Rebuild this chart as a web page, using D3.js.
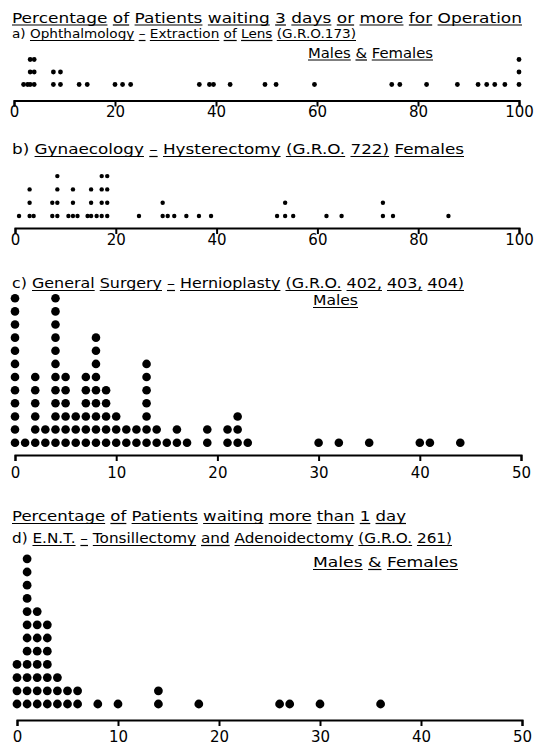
<!DOCTYPE html>
<html>
<head>
<meta charset="utf-8">
<script src="https://cdnjs.cloudflare.com/ajax/libs/d3/7.8.5/d3.min.js"></script>
<style>
body { margin: 0; background: #fff; }
text { font-family: "DejaVu Sans", sans-serif; fill: #000; }
</style>
</head>
<body>
<div id="chart"></div>
<script>
// a) Ophthalmology - extraction of lens, % waiting 3+ days
var aValues = [1.9, 2.7, 3.2, 4.0, 7.8, 9.2, 12.9, 14.5, 20, 21.5, 23.1, 36.7, 38.7, 39.5, 42.8, 49.7, 51.9, 59.5, 74.8, 76.4, 81.7, 87.8, 91.9, 93.6, 95.2, 97.2, 100];
var aCounts = [1, 1, 3, 3, 2, 2, 1, 1, 1, 1, 1, 1, 1, 1, 1, 1, 1, 1, 1, 1, 1, 1, 1, 1, 1, 1, 3];

// b) Gynaecology - hysterectomy
var bValues = [0.8, 2.9, 3.7, 7.4, 8.4, 10.6, 11.5, 12.4, 14.4, 15.1, 16.2, 17.2, 18.3, 24.6, 29.3, 30.3, 31.6, 34.0, 36.5, 38.9, 52.0, 53.6, 55.2, 61.8, 64.8, 73.0, 75.0, 86.0];
var bCounts = [1, 3, 1, 2, 4, 1, 3, 1, 1, 3, 1, 4, 4, 1, 2, 1, 1, 1, 1, 1, 1, 2, 1, 1, 1, 2, 1, 1];

// c) General surgery - hernioplasty
var cValues = [0, 1, 2, 3, 4, 5, 6, 7, 8, 9, 10, 11, 12, 13, 14, 15, 16, 17, 19, 21, 22, 23, 30, 32, 35, 40, 41, 44];
var cCounts = [12, 1, 6, 2, 12, 6, 3, 6, 9, 5, 3, 2, 2, 7, 2, 1, 2, 1, 2, 2, 3, 1, 1, 1, 1, 1, 1, 1];

// d) ENT - tonsillectomy and adenoidectomy, % waiting more than 1 day
var dValues = [0, 1, 2, 3, 4, 5, 6, 8, 10, 14, 18, 26, 27, 30, 36];
var dCounts = [4, 12, 8, 7, 3, 2, 2, 1, 1, 2, 1, 1, 1, 1, 1];

var ticks100 = [0, 20, 40, 60, 80, 100];
var ticks50 = [0, 10, 20, 30, 40, 50];

function init() {
    var w = 537;
    var h = 746;

    var svg = d3.select("#chart")
        .append("svg")
        .attr("width", w)
        .attr("height", h);

    // hidden text used to measure word widths
    var meas = svg.append("text").attr("opacity", 0);
    function width(s, size) {
        meas.attr("font-size", size).text(s);
        return meas.node().getComputedTextLength();
    }

    // lettered line, stretched to fit x0..x1, each word underlined (after `skip` words)
    function lettered(str, x0, x1, y, skip, size) {
        size = size || 14;
        var words = str.split(" ");
        var sp = width("a a", size) - width("aa", size);
        var ws = words.map(function(s) { return width(s, size); });
        var total = d3.sum(ws) + sp * (words.length - 1);
        var k = (x1 - x0) / total;
        var x = x0;
        words.forEach(function(wd, i) {
            var ww = ws[i] * k;
            svg.append("text")
                .attr("x", x)
                .attr("y", y)
                .attr("font-size", size)
                .attr("textLength", ww)
                .attr("lengthAdjust", "spacingAndGlyphs")
                .text(wd);
            if (i >= skip) {
                svg.append("line")
                    .attr("x1", x).attr("x2", x + ww)
                    .attr("y1", y + 2.5).attr("y2", y + 2.5)
                    .attr("stroke", "#000")
                    .attr("stroke-width", 1.2);
            }
            x += ww + sp * k;
        });
    }

    lettered("Percentage of Patients waiting 3 days or more for Operation", 12, 522, 22.5, 0, 13.5);
    lettered("a) Ophthalmology – Extraction of Lens (G.R.O.173)", 12, 356, 38, 1, 13);
    lettered("Males & Females", 308, 433, 57.5, 0);
    lettered("b) Gynaecology – Hysterectomy (G.R.O. 722) Females", 12, 464, 154, 1);
    lettered("c) General Surgery – Hernioplasty (G.R.O. 402, 403, 404)", 12, 464, 288, 1);
    lettered("Males", 313, 358, 305, 0);
    lettered("Percentage of Patients waiting more than 1 day", 12, 406, 521, 0);
    lettered("d) E.N.T. – Tonsillectomy and Adenoidectomy (G.R.O. 261)", 12, 452, 543, 1);
    lettered("Males & Females", 313, 458, 567, 0);
    meas.remove();

    var panels = [
        { values: aValues, counts: aCounts, max: 100, x0: 14, x1: 519, axisY: 100.5, base: 84.5, step: 12.5, r: 2.4, ticks: ticks100, pad: 0 },
        { values: bValues, counts: bCounts, max: 100, x0: 15, x1: 519, axisY: 228, base: 216, step: 13.3, r: 2.2, ticks: ticks100, pad: 0 },
        { values: cValues, counts: cCounts, max: 50, x0: 15, x1: 521, axisY: 455, base: 442.7, step: 13.13, r: 4.3, ticks: ticks50, pad: 6 },
        { values: dValues, counts: dCounts, max: 50, x0: 17, x1: 522, axisY: 720, base: 704, step: 13.2, r: 4.4, ticks: ticks50, pad: 5 }
    ];

    panels.forEach(function(p) {
        var xScale = d3.scaleLinear()
            .domain([0, p.max])
            .range([p.x0, p.x1]);

        // stack dots: one per patient group, piled up at its value
        var dots = [];
        p.values.forEach(function(v, i) {
            for (var k = 0; k < p.counts[i]; k++) dots.push({ v: v, k: k });
        });

        svg.append("g")
            .selectAll("circle")
            .data(dots)
            .enter()
            .append("circle")
            .attr("cx", function(d) { return xScale(d.v); })
            .attr("cy", function(d) { return p.base - d.k * p.step; })
            .attr("r", p.r)
            .style("fill", "#000");

        var axis = svg.append("g")
            .attr("transform", "translate(0," + p.axisY + ")")
            .call(d3.axisBottom(xScale)
                .tickValues(p.ticks)
                .tickSize(6)
                .tickPadding(p.pad)
                .tickFormat(d3.format("d")));
        axis.select(".domain").attr("stroke-width", 2);
        axis.selectAll(".tick line").attr("stroke-width", 2);
        axis.selectAll(".tick text")
            .attr("font-size", 15)
            .attr("font-family", "DejaVu Sans, sans-serif");
    });
}

window.onload = init;
</script>
</body>
</html>
